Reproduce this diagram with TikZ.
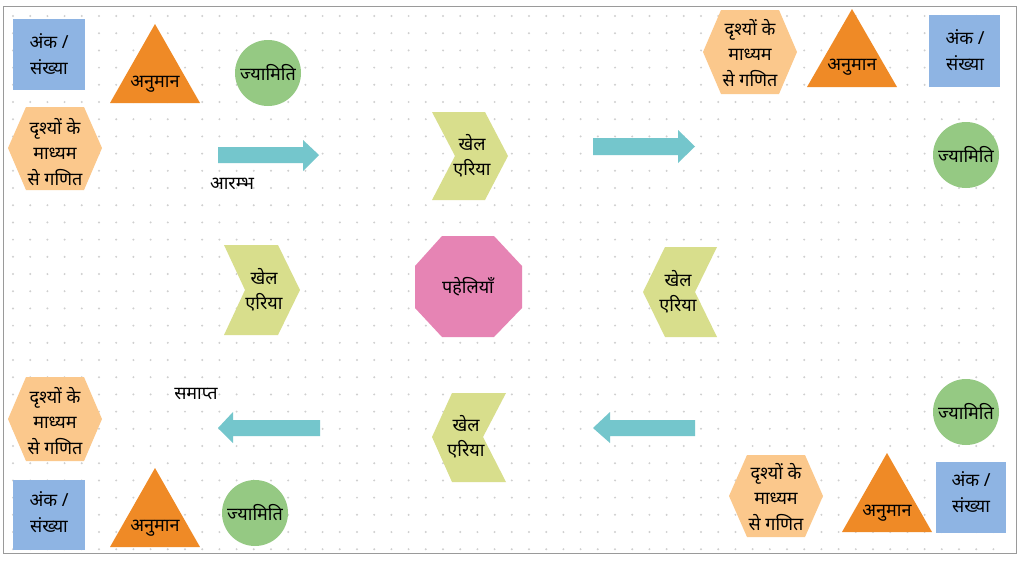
\documentclass[tikz,border=0pt]{standalone}
\usepackage{fontspec}
\newfontfamily\deva[Script=Devanagari]{Noto Sans}
\definecolor{sqc}{HTML}{8EB4E3}
\definecolor{tric}{HTML}{EF8A26}
\definecolor{circc}{HTML}{95C983}
\definecolor{hexc}{HTML}{FBC88C}
\definecolor{chevc}{HTML}{D8DE8C}
\definecolor{octc}{HTML}{E684B4}
\definecolor{arrc}{HTML}{74C6CC}
\definecolor{dotc}{HTML}{CFCFCF}
\definecolor{framec}{HTML}{9A9A9A}
\begin{document}
\begin{tikzpicture}[x=1pt,y=-1pt,
  txt/.style={font=\deva\fontsize{18}{25.5}\selectfont, align=center, text=black, inner sep=0pt},
  lbl/.style={font=\deva\fontsize{18}{20}\selectfont, text=black, inner sep=0pt},
  sq/.style={fill=sqc},
  tri/.style={fill=tric},
  circ/.style={fill=circc},
  hex/.style={fill=hexc},
  chev/.style={fill=chevc},
  oct/.style={fill=octc},
  blockarrow/.style={fill=arrc}]
\useasboundingbox (0,0) rectangle (1024,560);
\fill[white] (0,0) rectangle (1024,560);
% dot grid
\foreach \i in {0,...,57}{
  \foreach \j in {0,...,31}{
    \fill[dotc] ({13+17.2*\i},{16+17.2*\j}) circle (1.1);
  }
}
\draw[framec, line width=1pt] (3,6) rectangle (1016,553);

% ---------- top left group
\fill[sq] (13,19) rectangle (85,90);
\node[txt] (sqTL) at (49,54) {अंक /\\संख्या};
\fill[tri] (110,103) -- (200,103) -- (155,24) -- cycle;
\node[txt] (triTL) at (155,84) {अनुमान};
\fill[circ] (268,73) circle (33);
\node[txt] (circTL) at (268,73) {ज्यामिति};
\fill[hex] (8,148) -- (26,107) -- (84,107) -- (102,148) -- (84,190) -- (26,190) -- cycle;
\node[txt] (hexTL) at (55,152) {दृश्यों के\\माध्यम\\से गणित};
\fill[blockarrow] (218,147) -- (303,147) -- (303,140) -- (319,155) -- (303,171) -- (303,163) -- (218,163) -- cycle;
\node[lbl] (start) at (232,184) {आरम्भ};

% ---------- top centre
\fill[chev] (432,112) -- (485,112) -- (508,156) -- (485,200) -- (432,200) -- (455,156) -- cycle;
\node[txt] (chevTC) at (472,156) {खेल\\एरिया};
\fill[blockarrow] (593,138) -- (678,138) -- (678,130) -- (695,146.5) -- (678,163) -- (678,155) -- (593,155) -- cycle;

% ---------- top right group
\fill[hex] (703,52) -- (721,10) -- (779,10) -- (797,52) -- (779,94) -- (721,94) -- cycle;
\node[txt] (hexTR) at (750,53) {दृश्यों के\\माध्यम\\से गणित};
\fill[tri] (807,87) -- (897,87) -- (852,9) -- cycle;
\node[txt] (triTR) at (852,67) {अनुमान};
\fill[sq] (929,15) rectangle (1000,87);
\node[txt] (sqTR) at (965,50) {अंक /\\संख्या};
\fill[circ] (966,155) circle (33);
\node[txt] (circTR) at (966,155) {ज्यामिति};

% ---------- middle row
\fill[chev] (224,245) -- (278,245) -- (300,290) -- (278,335) -- (224,335) -- (245,290) -- cycle;
\node[txt] (chevML) at (264,290) {खेल\\एरिया};
\fill[oct] (442,236) -- (494,236) -- (522,266) -- (522,308) -- (494,337) -- (442,337) -- (415,308) -- (415,266) -- cycle;
\node[txt] (oct) at (468,287) {पहेलियाँ};
\fill[chev] (665,247) -- (717,247) -- (695,292) -- (717,337) -- (665,337) -- (643,292) -- cycle;
\node[txt] (chevMR) at (678,292) {खेल\\एरिया};

% ---------- bottom row
\fill[hex] (8,419) -- (26,377) -- (84,377) -- (102,419) -- (84,461) -- (26,461) -- cycle;
\node[txt] (hexBL) at (55,421) {दृश्यों के\\माध्यम\\से गणित};
\node[lbl] (finish) at (196,394) {समाप्त};
\fill[blockarrow] (320,420) -- (233,420) -- (233,412) -- (218,428) -- (233,443) -- (233,436) -- (320,436) -- cycle;
\fill[chev] (452,393) -- (506,393) -- (483,437) -- (506,482) -- (452,482) -- (432,437) -- cycle;
\node[txt] (chevBC) at (466,437) {खेल\\एरिया};
\fill[blockarrow] (695,420) -- (610,420) -- (610,412) -- (593,428) -- (610,443) -- (610,436) -- (695,436) -- cycle;

\fill[sq] (13,480) rectangle (85,550);
\node[txt] (sqBL) at (49,512) {अंक /\\संख्या};
\fill[tri] (110,547) -- (200,547) -- (155,468) -- cycle;
\node[txt] (triBL) at (155,528) {अनुमान};
\fill[circ] (255,513) circle (33);
\node[txt] (circBL) at (255,513) {ज्यामिति};

\fill[circ] (966,412) circle (33);
\node[txt] (circBR) at (966,412) {ज्यामिति};
\fill[hex] (729,496) -- (747,455) -- (805,455) -- (823,496) -- (805,537) -- (747,537) -- cycle;
\node[txt] (hexBR) at (776,497) {दृश्यों के\\माध्यम\\से गणित};
\fill[tri] (842,532) -- (932,532) -- (887,453) -- cycle;
\node[txt] (triBR) at (887,513) {अनुमान};
\fill[sq] (936,462) rectangle (1006,533);
\node[txt] (sqBR) at (971,492) {अंक /\\संख्या};
\end{tikzpicture}
\end{document}
